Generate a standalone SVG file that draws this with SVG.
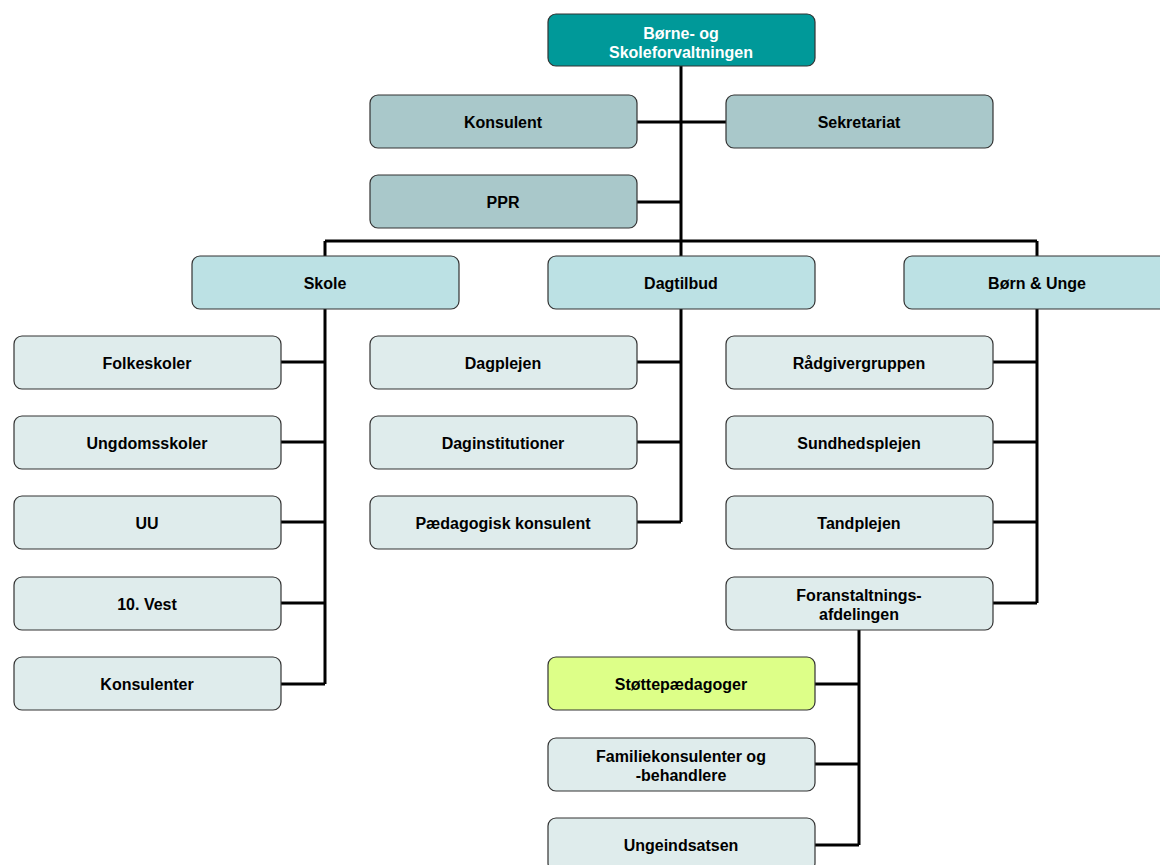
<svg xmlns="http://www.w3.org/2000/svg" width="1160" height="865" viewBox="0 0 1160 865">
<style>
.b{stroke:#333;stroke-width:1.2}
.t0{fill:#009999}.t1{fill:#A9C8CA}.t2{fill:#BCE1E4}.t3{fill:#DFECEC}.t4{fill:#DDFF88}
text{font-family:"Liberation Sans",Arial,sans-serif;font-size:16px;font-weight:bold;fill:#000;text-anchor:middle}
.w{fill:#fff}
.c{stroke:#000;stroke-width:3;fill:none}
</style>
<rect width="1160" height="865" fill="#fff"/>
<g id="connectors">
<path class="c" d="M681 66V241M637 122H726M637 202H681M325 241H1037M325 241V256M681 241V256M1037 241V256"/>
<path class="c" d="M325 309V684M281 362H325M281 442H325M281 522H325M281 603H325M281 684H325"/>
<path class="c" d="M681 309V522M637 362H681M637 442H681M637 522H681"/>
<path class="c" d="M1037 309V603M993 362H1037M993 442H1037M993 522H1037M993 603H1037"/>
<path class="c" d="M859 630V845M815 684H859M815 764H859M815 845H859"/>
</g>
<g id="root"><rect class="b t0" x="548" y="14" width="267" height="52" rx="8"/><text class="w" x="681" y="38.5">Børne- og</text><text class="w" x="681" y="57.5">Skoleforvaltningen</text></g>
<g id="konsulent"><rect class="b t1" x="370" y="95" width="267" height="53" rx="8"/><text x="503" y="128">Konsulent</text></g>
<g id="sekretariat"><rect class="b t1" x="726" y="95" width="267" height="53" rx="8"/><text x="859" y="128">Sekretariat</text></g>
<g id="ppr"><rect class="b t1" x="370" y="175" width="267" height="53" rx="8"/><text x="503" y="208">PPR</text></g>
<g id="skole"><rect class="b t2" x="192" y="256" width="267" height="53" rx="8"/><text x="325" y="289">Skole</text></g>
<g id="dagtilbud"><rect class="b t2" x="548" y="256" width="267" height="53" rx="8"/><text x="681" y="289">Dagtilbud</text></g>
<g id="bornunge"><rect class="b t2" x="904" y="256" width="267" height="53" rx="8"/><text x="1037" y="289">Børn &amp; Unge</text></g>
<g id="folkeskoler"><rect class="b t3" x="14" y="336" width="267" height="53" rx="8"/><text x="147" y="369">Folkeskoler</text></g>
<g id="ungdomsskoler"><rect class="b t3" x="14" y="416" width="267" height="53" rx="8"/><text x="147" y="449">Ungdomsskoler</text></g>
<g id="uu"><rect class="b t3" x="14" y="496" width="267" height="53" rx="8"/><text x="147" y="529">UU</text></g>
<g id="vest"><rect class="b t3" x="14" y="577" width="267" height="53" rx="8"/><text x="147" y="610">10. Vest</text></g>
<g id="konsulenter"><rect class="b t3" x="14" y="657" width="267" height="53" rx="8"/><text x="147" y="690">Konsulenter</text></g>
<g id="dagplejen"><rect class="b t3" x="370" y="336" width="267" height="53" rx="8"/><text x="503" y="369">Dagplejen</text></g>
<g id="daginstitutioner"><rect class="b t3" x="370" y="416" width="267" height="53" rx="8"/><text x="503" y="449">Daginstitutioner</text></g>
<g id="paedkonsulent"><rect class="b t3" x="370" y="496" width="267" height="53" rx="8"/><text x="503" y="529">Pædagogisk konsulent</text></g>
<g id="raadgiver"><rect class="b t3" x="726" y="336" width="267" height="53" rx="8"/><text x="859" y="369">Rådgivergruppen</text></g>
<g id="sundhed"><rect class="b t3" x="726" y="416" width="267" height="53" rx="8"/><text x="859" y="449">Sundhedsplejen</text></g>
<g id="tand"><rect class="b t3" x="726" y="496" width="267" height="53" rx="8"/><text x="859" y="529">Tandplejen</text></g>
<g id="foranst"><rect class="b t3" x="726" y="577" width="267" height="53" rx="8"/><text x="859" y="601">Foranstaltnings-</text><text x="859" y="620">afdelingen</text></g>
<g id="stotte"><rect class="b t4" x="548" y="657" width="267" height="53" rx="8"/><text x="681" y="690">Støttepædagoger</text></g>
<g id="familie"><rect class="b t3" x="548" y="738" width="267" height="53" rx="8"/><text x="681" y="762">Familiekonsulenter og</text><text x="681" y="781">-behandlere</text></g>
<g id="ungeindsats"><rect class="b t3" x="548" y="818" width="267" height="53" rx="8"/><text x="681" y="851">Ungeindsatsen</text></g>
</svg>
